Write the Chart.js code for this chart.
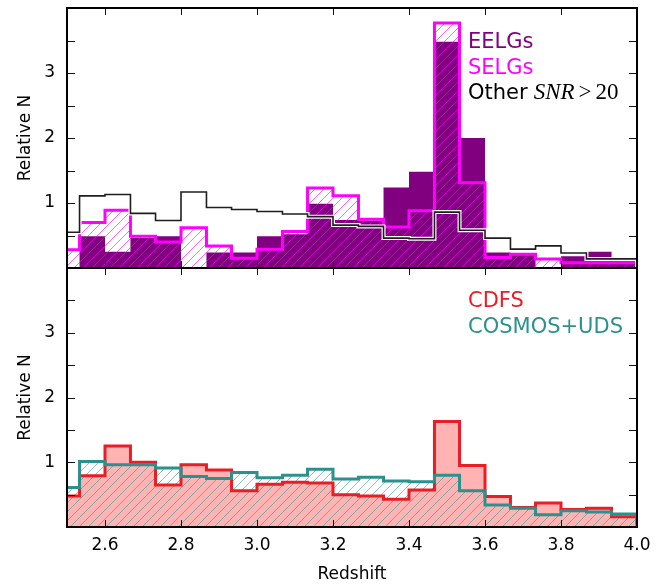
<!DOCTYPE html>
<html>
<head>
<meta charset="utf-8">
<script src="https://cdn.jsdelivr.net/npm/chart.js@4.4.1/dist/chart.umd.min.js"></script>
<style>
  html, body { margin: 0; padding: 0; background: #fff; }
  #wrap { position: relative; width: 670px; height: 587px; }
  #wrap canvas { position: absolute; left: 0; }
</style>
</head>
<body>
<div id="wrap">
  <canvas id="topPanel" width="670" height="272" style="top:0;width:670px;height:272px"></canvas>
  <canvas id="bottomPanel" width="670" height="323" style="top:264px;width:670px;height:323px"></canvas>
</div>
<script>
// redshift bin edges (first bin is only half inside the axis)
const binEdges = [2.467, 2.533, 2.6, 2.667, 2.733, 2.8, 2.867, 2.933, 3.0, 3.067, 3.133, 3.2,
                  3.267, 3.333, 3.4, 3.467, 3.533, 3.6, 3.667, 3.733, 3.8, 3.867, 3.933, 4.0];
const xTickValues = [2.6, 2.8, 3.0, 3.2, 3.4, 3.6, 3.8, 4.0];
const yTickValues = [0.5, 1, 1.5, 2, 2.5, 3, 3.5];

// top panel
const eelgs = [0, 0.49, 0.25, 0.46, 0.49, 0, 0.24, 0.24, 0.49, 0.52, 0.99, 0.74, 0.73, 1.24, 1.48, 3.48, 2.0, 0.24, 0.22, 0, 0.18, 0.25, 0.12];
const selgs = [0.28, 0.70, 0.89, 0.49, 0.40, 0.62, 0.34, 0.15, 0.29, 0.56, 1.23, 1.11, 0.75, 0.63, 0.88, 3.77, 1.31, 0.16, 0.21, 0.14, 0.08, 0.08, 0.08];
const other = [0.55, 1.11, 1.13, 0.84, 0.73, 1.17, 0.93, 0.90, 0.87, 0.83, 0.79, 0.66, 0.64, 0.46, 0.45, 0.86, 0.58, 0.46, 0.29, 0.34, 0.23, 0.14, 0.14];

// bottom panel
const cdfs = [0.48, 0.79, 1.25, 1.0, 0.65, 0.96, 0.88, 0.56, 0.66, 0.69, 0.68, 0.50, 0.48, 0.43, 0.57, 1.63, 0.95, 0.47, 0.30, 0.37, 0.27, 0.29, 0.16];
const cosmos = [0.61, 1.01, 0.96, 0.96, 0.91, 0.78, 0.75, 0.84, 0.76, 0.80, 0.89, 0.74, 0.77, 0.71, 0.70, 0.80, 0.56, 0.34, 0.29, 0.19, 0.25, 0.23, 0.20];

const FONT = "'DejaVu Sans', sans-serif";
const NONE = 'rgba(0,0,0,0)';

// histogram outline as points on the left edge of every bin
function steps(vals) {
  const last = binEdges.length - 1;
  const pts = [{x: binEdges[0], y: 0}];
  vals.forEach((v, i) => pts.push({x: binEdges[i], y: v}));
  pts.push({x: binEdges[last], y: vals[vals.length - 1]});
  pts.push({x: binEdges[last], y: 0});
  return pts;
}

function hatch(color, size) {
  const c = document.createElement('canvas');
  c.width = c.height = size;
  const g = c.getContext('2d');
  g.strokeStyle = color;
  g.lineWidth = 1;
  g.beginPath();
  g.moveTo(0, size); g.lineTo(size, 0);
  g.moveTo(-1, 1); g.lineTo(1, -1);
  g.moveTo(size - 1, size + 1); g.lineTo(size + 1, size - 1);
  g.stroke();
  return g.createPattern(c, 'repeat');
}

function hist(vals, opts) {
  return Object.assign({
    data: steps(vals),
    stepped: 'before',
    pointRadius: 0,
    borderWidth: 3,
    borderColor: NONE,
    backgroundColor: NONE,
    fill: false
  }, opts);
}

// frame + inward ticks on all four sides
const framePlugin = {
  id: 'frame',
  afterDatasetsDraw(chart) {
    const {ctx, chartArea: a, scales: {x, y}} = chart;
    ctx.save();
    ctx.strokeStyle = '#111';
    ctx.lineWidth = 1;
    ctx.beginPath();
    xTickValues.forEach(v => {
      const px = Math.round(x.getPixelForValue(v)) + 0.5;
      ctx.moveTo(px, a.bottom); ctx.lineTo(px, a.bottom - 7);
      ctx.moveTo(px, a.top); ctx.lineTo(px, a.top + 7);
    });
    yTickValues.forEach(v => {
      const py = Math.round(y.getPixelForValue(v)) + 0.5;
      ctx.moveTo(a.left, py); ctx.lineTo(a.left + 8, py);
      ctx.moveTo(a.right, py); ctx.lineTo(a.right - 8, py);
    });
    ctx.stroke();
    ctx.strokeStyle = '#000';
    ctx.lineWidth = 2;
    ctx.strokeRect(a.left, a.top, a.right - a.left, a.bottom - a.top);
    ctx.restore();
  }
};

// coloured legend texts
const notesPlugin = {
  id: 'notes',
  afterDraw(chart, args, opts) {
    const {ctx, chartArea: a} = chart;
    ctx.save();
    ctx.textBaseline = 'alphabetic';
    opts.lines.forEach(line => {
      let x = a.left + 401;
      line.parts.forEach(p => {
        ctx.font = p.font || ('21px ' + FONT);
        ctx.fillStyle = line.color;
        ctx.fillText(p.t, x, a.top + line.dy);
        x += ctx.measureText(p.t).width + (p.gap || 0);
      });
    });
    ctx.restore();
  }
};

function yAxis() {
  return {
    min: 0, max: 4,
    afterBuildTicks: s => { s.ticks = yTickValues.map(v => ({value: v})); },
    afterFit: s => { s.width = 67; s.paddingTop = 0; s.paddingBottom = 0; },
    grid: {display: false, drawTicks: false},
    border: {display: false},
    ticks: {
      padding: 12, color: '#000', font: {family: FONT, size: 17},
      callback: v => Number.isInteger(v) ? String(v) : ''
    },
    title: {display: true, text: 'Relative N', color: '#000',
            font: {family: FONT, size: 17}, padding: {top: 15, bottom: 0}}
  };
}

const serif = "'Liberation Serif', 'DejaVu Serif', serif";

new Chart(document.getElementById('topPanel'), {
  type: 'line',
  data: {
    datasets: [
      hist(eelgs, {order: 5, fill: 'origin', backgroundColor: '#800080'}),
      hist(selgs, {order: 4, fill: 'origin', backgroundColor: hatch('rgba(255,0,255,0.6)', 9), borderColor: '#ff00ff'}),
      hist(other, {order: 3, borderColor: '#fff', borderWidth: 4}),
      hist(other, {order: 2, borderColor: '#1e1e1e', borderWidth: 1.6})
    ]
  },
  options: {
    responsive: false,
    animation: false,
    layout: {padding: {top: 8, bottom: 4, left: 0, right: 33}},
    scales: {
      x: {type: 'linear', min: 2.5, max: 4.0, display: false},
      y: yAxis()
    },
    plugins: {
      legend: {display: false},
      tooltip: {enabled: false},
      notes: {lines: [
        {color: '#800080', dy: 40, parts: [{t: 'EELGs'}]},
        {color: '#ff00ff', dy: 66, parts: [{t: 'SELGs'}]},
        {color: '#000', dy: 91, parts: [
          {t: 'Other', gap: 6},
          {t: 'SNR', font: 'italic 23px ' + serif, gap: 4},
          {t: '>', font: '23px ' + serif, gap: 4},
          {t: '20', font: '23px ' + serif}
        ]}
      ]}
    }
  },
  plugins: [framePlugin, notesPlugin]
});

new Chart(document.getElementById('bottomPanel'), {
  type: 'line',
  data: {
    datasets: [
      hist(cdfs, {order: 5, fill: 'origin', backgroundColor: '#ffb3b3'}),
      hist(cosmos, {order: 4, fill: 'origin', backgroundColor: hatch('rgba(42,145,141,0.55)', 9)}),
      hist(cdfs, {order: 3, borderColor: '#ec1c24'}),
      hist(cosmos, {order: 2, borderColor: '#2a918d'})
    ]
  },
  options: {
    responsive: false,
    animation: false,
    layout: {padding: {top: 4, bottom: 0, left: 0, right: 33}},
    scales: {
      x: {
        type: 'linear', min: 2.5, max: 4.0,
        afterBuildTicks: s => { s.ticks = xTickValues.map(v => ({value: v})); },
        afterFit: s => { s.height = 60; s.paddingLeft = 0; s.paddingRight = 0; },
        grid: {display: false, drawTicks: false},
        border: {display: false},
        ticks: {padding: 8, color: '#000', maxRotation: 0, font: {family: FONT, size: 17},
                callback: v => v.toFixed(1)},
        title: {display: true, text: 'Redshift', color: '#000',
                font: {family: FONT, size: 17}, padding: {top: 0, bottom: 2}}
      },
      y: yAxis()
    },
    plugins: {
      legend: {display: false},
      tooltip: {enabled: false},
      notes: {lines: [
        {color: '#ec1c24', dy: 39, parts: [{t: 'CDFS'}]},
        {color: '#2a918d', dy: 65, parts: [{t: 'COSMOS+UDS'}]}
      ]}
    }
  },
  plugins: [framePlugin, notesPlugin]
});
</script>
</body>
</html>
